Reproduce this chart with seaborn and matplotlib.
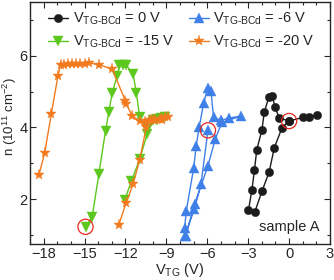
import matplotlib
matplotlib.use("Agg")
import matplotlib.pyplot as plt
import seaborn as sns
from matplotlib.ticker import MultipleLocator

# V_TG-BCd = 0 V
vtg_0 = [0.0, -0.52, -1.08, -1.47, -1.98, -2.51, -2.98, -2.73, -2.54, -2.37, -2.0,
         -1.81, -1.49, -1.25, -1.03, -0.74, 0.0, 1.0, 1.46, 2.02]
n_0 = [4.18, 3.99, 3.44, 2.75, 2.23, 1.65, 1.69, 2.25, 2.81, 3.38, 3.92,
       4.44, 4.84, 4.88, 4.58, 4.27, 4.18, 4.28, 4.30, 4.34]

# V_TG-BCd = -6 V
vtg_6 = [-5.95, -6.46, -6.95, -7.66, -7.66, -7.54, -7.0, -6.81, -6.59, -6.27, -5.98,
         -5.73, -5.54, -5.0, -4.44, -3.52, -4.93, -5.42, -5.95, -6.93, -7.59]
n_6 = [3.92, 2.42, 1.72, 0.97, 1.19, 1.67, 2.86, 3.49, 4.02, 4.67, 5.09,
       5.02, 4.28, 4.20, 4.26, 4.32, 4.14, 3.67, 2.93, 1.86, 0.97]

# V_TG-BCd = -15 V
vtg_15 = [-12.05, -11.56, -10.96, -10.41, -10.0, -9.7, -9.4, -9.1, -9.7, -10.41,
          -10.95, -11.2, -11.44, -11.95, -12.2, -12.44, -12.61, -12.97, -13.22,
          -13.46, -13.95, -14.44, -14.93]
n_15 = [1.98, 2.51, 3.11, 3.81, 4.20, 4.24, 4.26, 4.28, 4.22, 3.95,
        4.28, 4.97, 5.49, 5.74, 5.74, 5.74, 5.44, 4.97, 4.44,
        3.91, 2.70, 1.51, 1.23]

# V_TG-BCd = -20 V
vtg_20 = [-12.49, -11.95, -11.44, -10.96, -10.46, -10.3, -10.1, -9.8, -9.5, -9.3,
          -9.1, -8.85, -9.4, -10.0, -10.6, -10.9, -11.51, -11.93, -12.0, -12.97,
          -13.95, -14.69, -15.0, -15.3, -15.6, -15.9, -16.2, -16.5, -16.76, -16.95,
          -17.44, -17.93, -18.34]
n_20 = [1.28, 1.90, 2.42, 3.10, 4.02, 4.18, 4.22, 4.20, 4.25, 4.22,
        4.28, 4.28, 4.24, 4.20, 4.15, 4.18, 4.32, 4.65, 4.74, 5.63,
        5.75, 5.80, 5.78, 5.77, 5.77, 5.76, 5.76, 5.75, 5.75, 5.44,
        4.37, 3.28, 2.68]

# red circles: V_TG = V_TG-BCd
mark_vtg = [0.0, -5.95, -14.93]
mark_n = [4.18, 3.92, 1.23]

sns.set_style("ticks")
plt.rcParams["font.family"] = ["Liberation Sans", "DejaVu Sans"]
plt.rcParams["mathtext.fontset"] = "custom"
plt.rcParams["mathtext.rm"] = "Liberation Sans"
plt.rcParams["mathtext.it"] = "Liberation Sans"

fig = plt.figure(figsize=(3.34, 2.80), dpi=100)
ax = fig.add_axes([30 / 334, 36 / 280, 300 / 334, 242 / 280])

series = [
    (vtg_0, n_0, "#1c1c1c", "o", 6, "0"),
    (vtg_6, n_6, "#3f7fe8", "^", 6.5, "-6"),
    (vtg_15, n_15, "#5cc81e", "v", 6.5, "-15"),
    (vtg_20, n_20, "#f27a1f", "*", 8, "-20"),
]
for x, y, col, mk, ms, v in series:
    sns.lineplot(x=x, y=y, sort=False, estimator=None, ax=ax, color=col,
                 marker=mk, markersize=ms, markeredgewidth=0.3,
                 markeredgecolor=col, linewidth=1.0,
                 label=r"V$_{\mathregular{TG\text{-}BCd}}$ = " + v + " V")

sns.scatterplot(x=mark_vtg, y=mark_n, ax=ax, s=120, facecolor="none",
                edgecolor="#e8281e", linewidth=0.9, zorder=5)

ax.set_xlim(-19, 3)
ax.set_ylim(0.75, 7.5)
ax.xaxis.set_major_locator(MultipleLocator(3))
ax.xaxis.set_minor_locator(MultipleLocator(1))
ax.yaxis.set_major_locator(MultipleLocator(2))
ax.yaxis.set_minor_locator(MultipleLocator(1))
ax.tick_params(which="both", direction="in", top=True, right=True,
               labelsize=10.5, pad=2.5)
ax.tick_params(axis="y", pad=1.8)
ax.tick_params(which="major", length=4, width=0.8)
ax.tick_params(which="minor", length=2.5, width=0.8)
for s in ax.spines.values():
    s.set_linewidth(1.0)

ax.set_xlabel(r"V$_{\mathregular{TG}}$ (V)", fontsize=10.5, labelpad=0)
ax.set_ylabel(r"n (10$^{11}$ cm$^{-2}$)", fontsize=9.5)
ax.yaxis.set_label_coords(-0.035, 0.525)
ax.text(0.965, 0.04, "sample A", transform=ax.transAxes, ha="right",
        va="bottom", fontsize=10.5)

handles, labels = ax.get_legend_handles_labels()
order = [0, 2, 1, 3]
ax.legend([handles[i] for i in order], [labels[i] for i in order],
          ncol=2, frameon=False, loc="upper left", bbox_to_anchor=(0.03, 1.0),
          fontsize=10.5, handlelength=1.4, handletextpad=0.3,
          columnspacing=1.0, labelspacing=0.45, borderaxespad=0.2)

fig.savefig("out.png", dpi=100)
